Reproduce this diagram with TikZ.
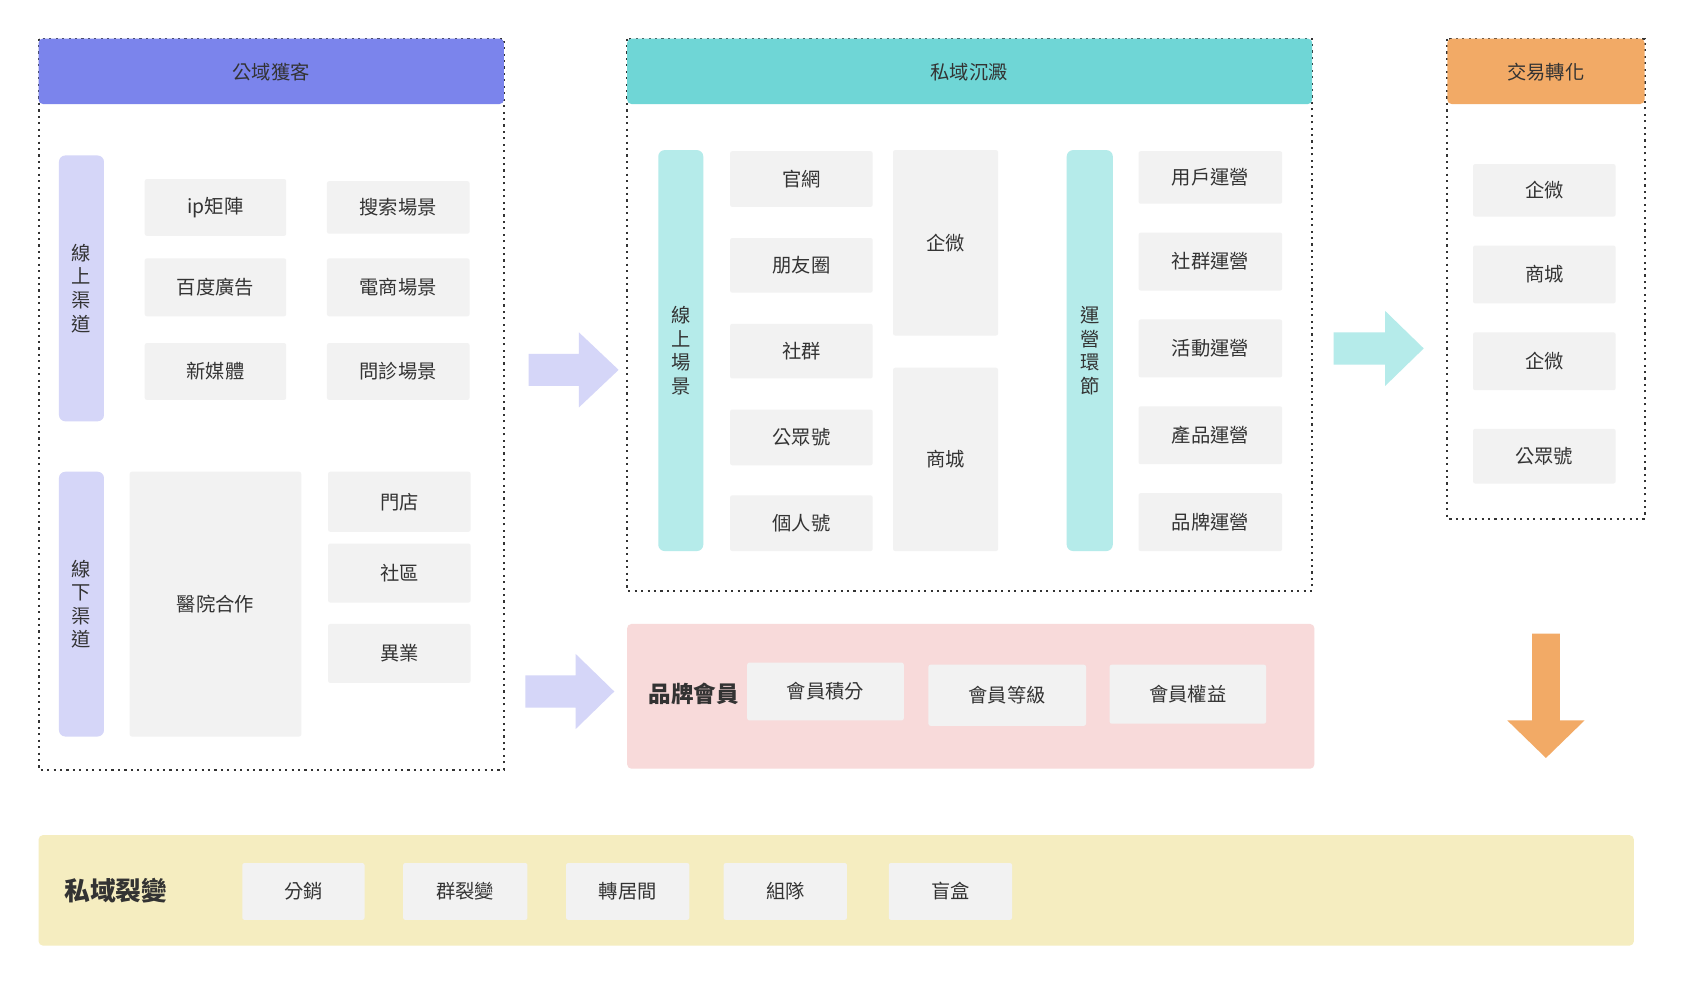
\documentclass[tikz,border=0pt]{standalone}
\usepackage{fontspec}
\setmainfont{Noto Sans CJK TC}
\begin{document}
\begin{tikzpicture}[x=0.5pt,y=-0.5pt,
  box/.style={fill=gbox,draw=none,font=\fontsize{9}{11}\selectfont,text=txt},
  vbar/.style={draw=none,align=center,font=\fontsize{9}{11}\selectfont,text=txt},
  panel/.style={draw=black!80,dotted,line width=1pt},
  hdr/.style={draw=none,font=\fontsize{9}{11}\selectfont,text=txt}]
\definecolor{gbox}{HTML}{F2F2F2}
\definecolor{txt}{HTML}{333333}
\definecolor{lav}{HTML}{D5D6F8}
\definecolor{blu}{HTML}{7B84EC}
\definecolor{tea}{HTML}{6FD6D6}
\definecolor{ltea}{HTML}{B5EBEA}
\definecolor{ora}{HTML}{F2AA66}
\definecolor{pnk}{HTML}{F8DADA}
\definecolor{yel}{HTML}{F5EDC0}
\useasboundingbox (0,0) rectangle (1568,918);
\fill[white] (0,0) rectangle (1568,918);
\newcommand\bx[6]{\path[box,rounded corners=1pt] (#2,#3) rectangle (#4,#5) node[box,midway] (#1) {#6};}
% left panel
\draw[panel] (36,36) rectangle (470,718);
\fill[blu,rounded corners=2pt] (36,36) rectangle (470,97);
\node[hdr] (h1) at (253,67) {公域獲客};
\path[fill=lav,rounded corners=3pt] (55,145) rectangle (97,393) node[vbar,midway] (b1) {線\\上\\渠\\道};
\bx{a1}{135}{167}{267}{220}{ip矩陣}
\bx{a2}{305}{169}{438}{218}{搜索場景}
\bx{a3}{135}{241}{267}{295}{百度廣告}
\bx{a4}{305}{241}{438}{295}{電商場景}
\bx{a5}{135}{320}{267}{373}{新媒體}
\bx{a6}{305}{320}{438}{373}{問診場景}
\path[fill=lav,rounded corners=3pt] (55,440) rectangle (97,687) node[vbar,midway] (b2) {線\\下\\渠\\道};
\bx{a7}{121}{440}{281}{687}{醫院合作}
\bx{a8}{306}{440}{439}{496}{門店}
\bx{a9}{306}{507}{439}{562}{社區}
\bx{a10}{306}{582}{439}{637}{異業}
% arrows
\fill[lav] (493,330) -- (540,330) -- (540,310) -- (577,345) -- (540,380) -- (540,360) -- (493,360) -- cycle;
\fill[lav] (490,630) -- (537,630) -- (537,610) -- (573,645) -- (537,680) -- (537,660) -- (490,660) -- cycle;
\fill[ltea] (1244,310) -- (1292,310) -- (1292,290) -- (1328,325) -- (1292,360) -- (1292,340) -- (1244,340) -- cycle;
\fill[ora] (1429,591) -- (1455,591) -- (1455,672) -- (1478,672) -- (1442,707) -- (1406,672) -- (1429,672) -- cycle;
% middle panel
\draw[panel] (585,36) rectangle (1224,551);
\fill[tea,rounded corners=2pt] (585,36) rectangle (1224,97);
\node[hdr] (h2) at (904,67) {私域沉澱};
\path[fill=ltea,rounded corners=3pt] (614,140) rectangle (656,514) node[vbar,midway] (b3) {線\\上\\場\\景};
\bx{m1}{681}{141}{814}{193}{官網}
\bx{m2}{681}{222}{814}{273}{朋友圈}
\bx{m3}{681}{302}{814}{353}{社群}
\bx{m4}{681}{382}{814}{434}{公眾號}
\bx{m5}{681}{462}{814}{514}{個人號}
\bx{m6}{833}{140}{931}{313}{企微}
\bx{m7}{833}{343}{931}{514}{商城}
\path[fill=ltea,rounded corners=3pt] (995,140) rectangle (1038,514) node[vbar,midway] (b4) {運\\營\\環\\節};
\bx{o1}{1062}{141}{1196}{190}{用戶運營}
\bx{o2}{1062}{217}{1196}{271}{社群運營}
\bx{o3}{1062}{298}{1196}{352}{活動運營}
\bx{o4}{1062}{379}{1196}{433}{產品運營}
\bx{o5}{1062}{460}{1196}{514}{品牌運營}
% right panel
\draw[panel] (1350,36) rectangle (1534,484);
\fill[ora,rounded corners=2pt] (1350,36) rectangle (1534,97);
\node[hdr] (h3) at (1442,67) {交易轉化};
\bx{r1}{1374}{153}{1507}{202}{企微}
\bx{r2}{1374}{229}{1507}{283}{商城}
\bx{r3}{1374}{310}{1507}{364}{企微}
\bx{r4}{1374}{400}{1507}{451}{公眾號}
% pink
\fill[pnk,rounded corners=2pt] (585,582) rectangle (1226,717);
\node[font=\fontsize{10.5}{12}\selectfont\bfseries,text=txt] (pm) at (647,647) {品牌會員};
\bx{p1}{697}{618}{843}{672}{會員積分}
\bx{p2}{866}{620}{1013}{677}{會員等級}
\bx{p3}{1035}{620}{1181}{675}{會員權益}
% bottom
\fill[yel,rounded corners=2pt] (36,779) rectangle (1524,882);
\node[font=\fontsize{12}{14}\selectfont\bfseries,text=txt] (yl) at (108,831) {私域裂變};
\bx{y1}{226}{805}{340}{858}{分銷}
\bx{y2}{376}{805}{492}{858}{群裂變}
\bx{y3}{528}{805}{643}{858}{轉居間}
\bx{y4}{675}{805}{790}{858}{組隊}
\bx{y5}{829}{805}{944}{858}{盲盒}
\end{tikzpicture}
\end{document}
